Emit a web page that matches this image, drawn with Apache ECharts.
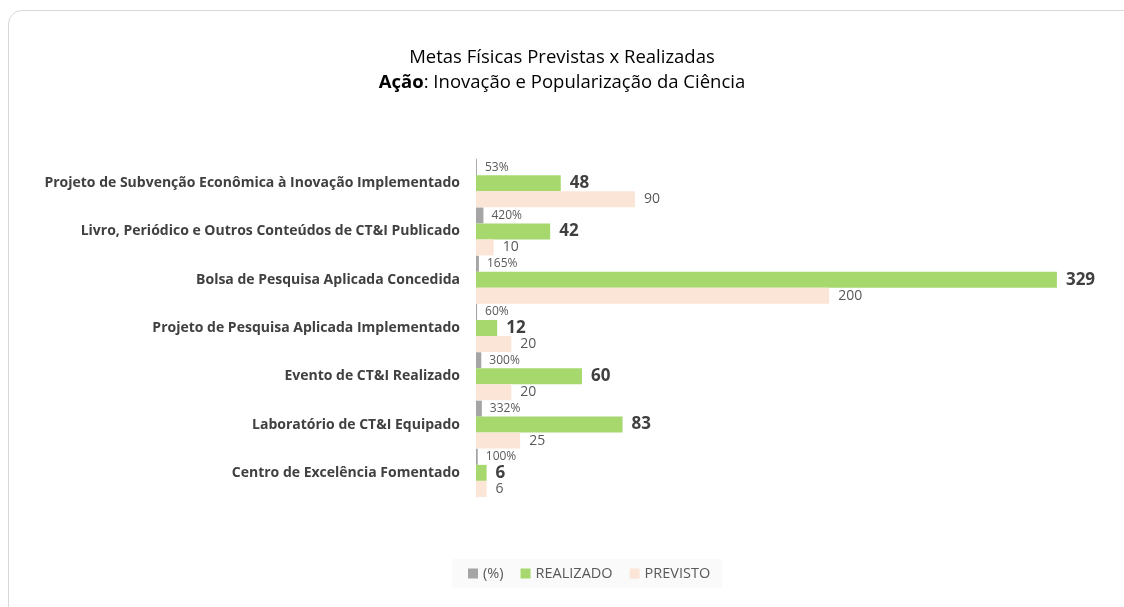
<!DOCTYPE html>
<html><head><meta charset="utf-8">
<script src="https://cdn.jsdelivr.net/npm/echarts@6/dist/echarts.min.js"></script>
<style>
html,body{margin:0;padding:0;background:#fff;width:1124px;height:607px;overflow:hidden;}
#card{position:absolute;left:8px;top:10px;width:1140px;height:620px;border:1px solid #d9d9d9;border-radius:14px;box-sizing:border-box;}
#chart{position:absolute;left:0;top:0;width:1124px;height:607px;}
</style></head>
<body>
<div id="card"></div>
<div id="chart"></div>
<script>
const categories = [
  'Projeto de Subvenção Econômica à Inovação Implementado',
  'Livro, Periódico e Outros Conteúdos de CT&I Publicado',
  'Bolsa de Pesquisa Aplicada Concedida',
  'Projeto de Pesquisa Aplicada Implementado',
  'Evento de CT&I Realizado',
  'Laboratório de CT&I Equipado',
  'Centro de Excelência Fomentado'
];
const percentRatio = [0.53, 4.20, 1.65, 0.60, 3.00, 3.32, 1.00];
const percentLabels = ['53%', '420%', '165%', '60%', '300%', '332%', '100%'];
const realizado = [48, 42, 329, 12, 60, 83, 6];
const previsto = [90, 10, 200, 20, 20, 25, 6];

const FONT = 'Open Sans';
const chart = echarts.init(document.getElementById('chart'));
chart.setOption({
  animation: false,
  textStyle: {fontFamily: FONT},
  title: {
    left: 'center', top: 40,
    text: '{n|Metas Físicas Previstas x Realizadas}\n{b|Ação}{n|: Inovação e Popularização da Ciência}',
    textStyle: {
      fontFamily: FONT, fontWeight: 'normal',
      rich: {
        n: {fontSize: 18.5, color: '#000', fontWeight: 'normal', fontFamily: FONT, lineHeight: 25},
        b: {fontSize: 18.5, color: '#000', fontWeight: 'bold', fontFamily: FONT, lineHeight: 25}
      }
    }
  },
  legend: {
    bottom: 19, left: 452,
    itemWidth: 10, itemHeight: 10, itemGap: 17,
    backgroundColor: '#fafafa',
    padding: [7, 12, 7, 16],
    icon: 'rect',
    textStyle: {fontSize: 14.5, color: '#595959', fontFamily: FONT},
    data: ['(%)', 'REALIZADO', 'PREVISTO']
  },
  grid: {left: 476, right: 30, top: 159, bottom: 110, containLabel: false},
  xAxis: {
    type: 'value', min: 0, max: 350,
    show: false
  },
  yAxis: {
    type: 'category', inverse: true, data: categories,
    axisLine: {show: true, lineStyle: {color: '#d9d9d9', width: 1}},
    axisTick: {show: false},
    axisLabel: {fontSize: 14, fontWeight: 'bold', color: '#404040', margin: 16, fontFamily: FONT}
  },
  series: [
    {
      name: '(%)', type: 'bar', data: percentRatio, barWidth: 16, barGap: '0%', barCategoryGap: '0%',
      itemStyle: {color: '#a5a5a5'},
      label: {show: true, position: 'right', distance: 8, fontSize: 12, color: '#595959', fontFamily: FONT,
        formatter: p => percentLabels[p.dataIndex]}
    },
    {
      name: 'REALIZADO', type: 'bar', data: realizado, barWidth: 16, barGap: '0%',
      itemStyle: {color: '#a6d86e'},
      label: {show: true, position: 'right', distance: 9, fontSize: 17, fontWeight: 'bold', color: '#404040', fontFamily: FONT}
    },
    {
      name: 'PREVISTO', type: 'bar', data: previsto, barWidth: 16, barGap: '0%',
      itemStyle: {color: '#fbe5d6'},
      label: {show: true, position: 'right', distance: 9, fontSize: 14, color: '#595959', fontFamily: FONT}
    }
  ]
});
</script>
</body></html>
